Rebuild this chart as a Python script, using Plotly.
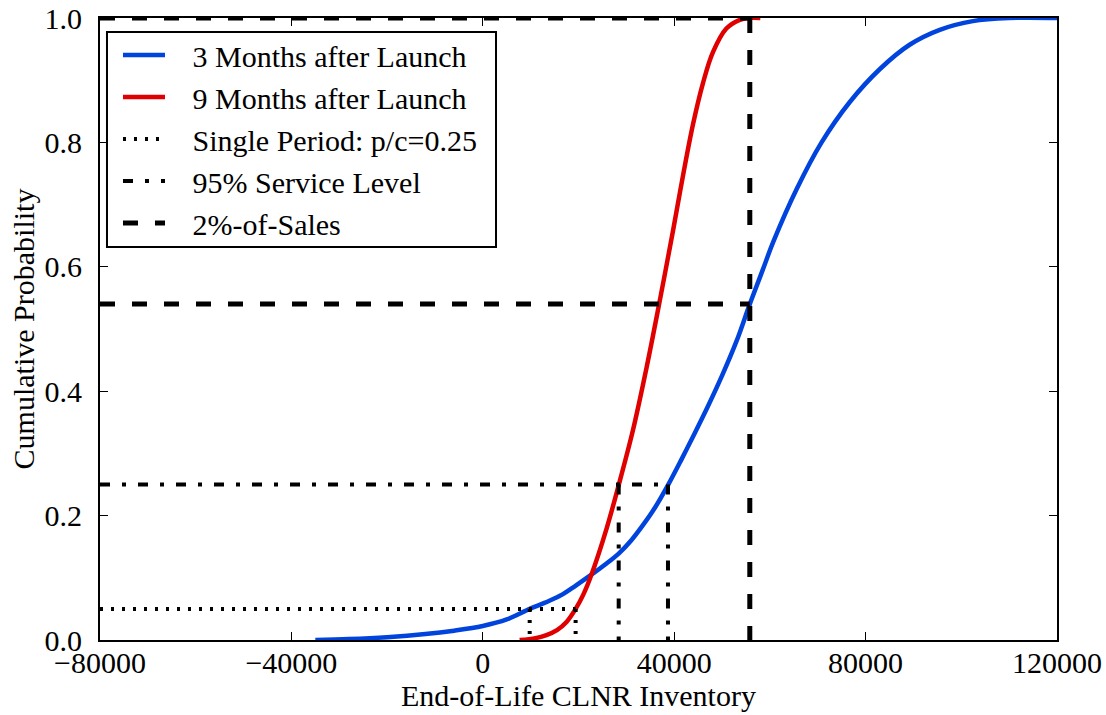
import plotly.graph_objects as go

# ---- data ----
blue_x = [-35000, -28000, -20000, -12000, -6000, 0, 5000, 9800, 13000, 16100, 19500,
          22700, 25500, 28400, 31000, 33500, 36000, 38700, 41500, 44000, 47000, 50000,
          53000, 55800, 58500, 60700, 65600, 70800, 76700, 83000, 89200, 95500, 102400,
          110000, 120000]
blue_y = [0.0, 0.0015, 0.0045, 0.0095, 0.015, 0.0225, 0.033, 0.05, 0.06, 0.071, 0.088,
          0.105, 0.121, 0.139, 0.16, 0.185, 0.213, 0.249, 0.29, 0.328, 0.375, 0.425,
          0.48, 0.54, 0.595, 0.64, 0.725, 0.80, 0.865, 0.918, 0.957, 0.981, 0.995,
          1.0, 1.0]

red_x = [7700, 11000, 13300, 15500, 17500, 19400, 21000, 22700, 25900, 28400, 31400,
         34200, 36800, 39800, 41800, 43900, 46000, 48100, 50900, 53700, 55500, 58000]
red_y = [0.0, 0.003, 0.008, 0.016, 0.029, 0.05, 0.073, 0.105, 0.18, 0.249, 0.338,
         0.437, 0.538, 0.66, 0.745, 0.828, 0.895, 0.945, 0.983, 0.997, 1.0, 1.0]

x_min, x_max = -80000, 120000
x_ticks = [-80000, -40000, 0, 40000, 80000, 120000]
x_tick_text = ["\u221280000", "\u221240000", "0", "40000", "80000", "120000"]
y_ticks = [0.0, 0.2, 0.4, 0.6, 0.8, 1.0]
y_tick_text = ["0.0", "0.2", "0.4", "0.6", "0.8", "1.0"]

# Single period p/c = 0.25
sp_level = 0.05
sp_q3, sp_q9 = 9800, 19400
# 95% service level
sl_level = 0.25
sl_q9, sl_q3 = 28400, 38700
# 2%-of-sales
ps_level_top = 1.0
ps_level_mid = 0.54
ps_q = 55800

names = ["3 Months after Launch", "9 Months after Launch", "Single Period: p/c=0.25",
         "95% Service Level", "2%-of-Sales"]

FONT = "Liberation Serif, Times New Roman, serif"
PAD = "\u00a0\u00a0\u00a0"

fig = go.Figure()
fig.add_trace(go.Scatter(x=blue_x, y=blue_y, mode="lines", name=PAD + names[0],
                         line=dict(color="#0044DD", width=4.5, shape="spline", smoothing=1.0)))
fig.add_trace(go.Scatter(x=red_x, y=red_y, mode="lines", name=PAD + names[1],
                         line=dict(color="#E00000", width=4.5, shape="spline", smoothing=1.0)))

sp_x = [x_min, sp_q9, None, sp_q3, sp_q3, None, sp_q9, sp_q9]
sp_y = [sp_level, sp_level, None, sp_level, 0, None, sp_level, 0]
fig.add_trace(go.Scatter(x=sp_x, y=sp_y, mode="lines", name=PAD + names[2],
                         line=dict(color="black", width=4, dash="3px,8px")))

sl_x = [x_min, sl_q3, None, sl_q9, sl_q9, None, sl_q3, sl_q3]
sl_y = [sl_level, sl_level, None, sl_level, 0, None, sl_level, 0]
fig.add_trace(go.Scatter(x=sl_x, y=sl_y, mode="lines", name=PAD + names[3],
                         line=dict(color="black", width=4, dash="10px,12px,4px,12px")))

ps_x = [x_min, ps_q, None, x_min, ps_q, None, ps_q, ps_q]
ps_y = [ps_level_top, ps_level_top, None, ps_level_mid, ps_level_mid, None, ps_level_top, 0]
fig.add_trace(go.Scatter(x=ps_x, y=ps_y, mode="lines", name=PAD + names[4],
                         line=dict(color="black", width=5, dash="15px,17px")))

axis_common = dict(showgrid=False, zeroline=False, showline=True, linecolor="black",
                   linewidth=2, mirror="ticks", ticks="inside", ticklen=8, tickwidth=1,
                   tickcolor="black", tickfont=dict(family=FONT, size=30, color="black"))

fig.update_layout(
    width=1106, height=715,
    margin=dict(l=100, r=49, t=18, b=75, autoexpand=False),
    paper_bgcolor="white", plot_bgcolor="white",
    font=dict(family=FONT, color="black"),
    xaxis=dict(range=[x_min, x_max], tickvals=x_ticks, ticktext=x_tick_text,
               ticklabelstandoff=-5,
               title=dict(text="End-of-Life CLNR Inventory",
                          font=dict(family=FONT, size=30, color="black"), standoff=6),
               **axis_common),
    yaxis=dict(range=[0, 1], tickvals=y_ticks, ticktext=y_tick_text, ticklabelstandoff=10,
               title=dict(text="Cumulative Probability",
                          font=dict(family=FONT, size=30, color="black"), standoff=1),
               **axis_common),
    showlegend=True,
    legend=dict(x=0.0188, y=0.9823, xanchor="left", yanchor="top",
                bgcolor="rgba(0,0,0,0)", borderwidth=0,
                font=dict(family=FONT, size=30, color="black"),
                traceorder="normal", itemwidth=42),
    shapes=[dict(type="rect", xref="paper", yref="paper",
                 x0=0.0073, x1=0.4138, y0=0.6318, y1=0.9775,
                 line=dict(color="black", width=2), fillcolor="rgba(0,0,0,0)",
                 layer="above")],
)

fig.write_html("out.html", config={"displayModeBar": False})
